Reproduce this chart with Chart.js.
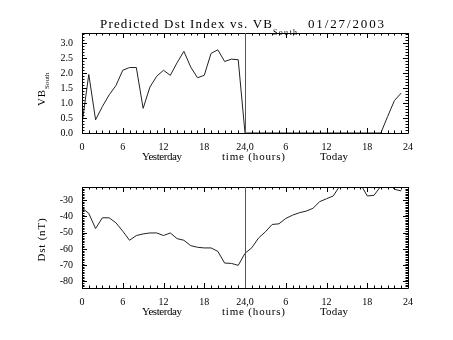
<!DOCTYPE html>
<html>
<head>
<meta charset="utf-8">
<script src="https://cdn.jsdelivr.net/npm/chart.js@4.4.0/dist/chart.umd.min.js"></script>
<style>
    html, body { margin: 0; padding: 0; background: #fff; }
    #wrap { position: relative; width: 453px; height: 340px; }
    #wrap canvas { position: absolute; left: 0; }
</style>
</head>
<body>
<div id="wrap">
    <canvas id="vbChart" width="453" height="170" style="top:0"></canvas>
    <canvas id="dstChart" width="453" height="170" style="top:170px"></canvas>
</div>
<script>
// --- Data (hour 0..47, yesterday 0-23, today 24-47) ---
const hours = [0, 1, 2, 3, 4, 5, 6, 7, 8, 9, 10, 11, 12, 13, 14, 15, 16, 17, 18, 19, 20, 21, 22, 23,
               24, 25, 26, 27, 28, 29, 30, 31, 32, 33, 34, 35, 36, 37, 38, 39, 40, 41, 42, 43, 44, 45, 46, 47];
const vbSouth = [0.30, 1.95, 0.44, 0.88, 1.27, 1.58, 2.09, 2.18, 2.18, 0.82, 1.53, 1.89,
                 2.09, 1.92, 2.34, 2.72, 2.20, 1.84, 1.92, 2.65, 2.77, 2.38, 2.46, 2.44,
                 0, 0, 0, 0, 0, 0, 0, 0, 0, 0, 0, 0,
                 0, 0, 0, 0, 0, 0, 0, 0, 0, 0.55, 1.08, 1.33];
const dst = [-34.9, -38.2, -47.5, -40.9, -40.9, -44.0, -49.1, -54.7, -51.8, -50.8, -50.2, -50.2,
             -51.8, -50.2, -53.7, -54.7, -58.0, -59.0, -59.4, -59.4, -61.5, -68.7, -68.9, -70.1,
             -62.7, -59.3, -53.3, -49.5, -45.0, -44.6, -41.3, -39.3, -37.8, -36.8, -35.1, -31.0,
             -29.2, -27.5, -21.0, -19.0, -18.0, -20.2, -27.5, -27.1, -21.5, -19.1, -23.4, -24.4];
const xTickLabels = ['0', '6', '12', '18', '24,0', '6', '12', '18', '24'];

const SERIF = '"Liberation Serif", "DejaVu Serif", serif';
const tickFont = { family: SERIF, size: 10 };

// draw text stretched with letter spacing so it spans a given width
const fitText = (ctx, text, x, y, w) => {
    ctx.letterSpacing = '0px';
    const m = ctx.measureText(text).width;
    const sp = text.length > 1 ? (w - m) / (text.length - 1) : 0;
    ctx.letterSpacing = sp + 'px';
    ctx.fillText(text, x, y);
    ctx.letterSpacing = '0px';
};

// --- IDL-like frame: box, inward ticks on all sides, divider at 24h, axis titles ---
const idlFrame = {
    id: 'idlFrame',
    afterDraw(chart, args, opts) {
        const { ctx, chartArea: a, scales } = chart;
        const xs = scales.x, ys = scales.y;
        const px = v => Math.round(v) + 0.5;
        ctx.save();
        ctx.strokeStyle = '#000';
        ctx.lineWidth = 1;
        ctx.beginPath();
        ctx.rect(px(a.left), px(a.top), Math.round(a.right - a.left), Math.round(a.bottom - a.top));
        // x ticks (hourly minor, 6h major)
        for (let h = 0; h <= 48; h++) {
            const x = px(xs.getPixelForValue(h));
            const len = h % 6 === 0 ? 5 : 2.5;
            ctx.moveTo(x, a.bottom); ctx.lineTo(x, a.bottom - len);
            ctx.moveTo(x, a.top); ctx.lineTo(x, a.top + len);
        }
        // y ticks
        const n = Math.round((opts.yMaxTick - opts.yMinTick) / opts.yMinor);
        for (let i = 0; i <= n; i++) {
            const v = opts.yMinTick + i * opts.yMinor;
            const y = px(ys.getPixelForValue(v));
            const major = Math.abs(v / opts.yMajor - Math.round(v / opts.yMajor)) < 1e-6;
            const len = major ? 5 : 2.5;
            ctx.moveTo(a.left, y); ctx.lineTo(a.left + len, y);
            ctx.moveTo(a.right, y); ctx.lineTo(a.right - len, y);
        }
        ctx.stroke();
        // divider between yesterday and today
        ctx.beginPath();
        ctx.strokeStyle = '#555';
        const xm = px(xs.getPixelForValue(24));
        ctx.moveTo(xm, a.top); ctx.lineTo(xm, a.bottom);
        ctx.stroke();

        // x axis titles
        ctx.fillStyle = '#000';
        ctx.font = '11px ' + SERIF;
        ctx.textBaseline = 'alphabetic';
        ctx.textAlign = 'left';
        const ty = a.bottom + opts.xTitleOffset;
        fitText(ctx, 'Yesterday', 142, ty, 40);
        fitText(ctx, 'time (hours)', 222, ty, 63);
        fitText(ctx, 'Today', 320, ty, 28);

        // y axis title (rotated), with optional subscript
        ctx.translate(opts.yTitleX, opts.yTitleY);
        ctx.rotate(-Math.PI / 2);
        ctx.font = '11px ' + SERIF;
        ctx.textAlign = 'left';
        const mainW = ctx.measureText(opts.yTitle).width + (opts.yTitle.length - 1) * 0.8;
        const subW = opts.ySub ? 20 : 0;
        const start = -(mainW + subW) / 2;
        ctx.letterSpacing = '0.8px';
        ctx.fillText(opts.yTitle, start, 0);
        ctx.letterSpacing = '0px';
        if (opts.ySub) {
            ctx.font = '7px ' + SERIF;
            ctx.fillText(opts.ySub, start + mainW + 1, 4);
        }
        ctx.restore();

        // main title on the top panel
        if (opts.title) {
            ctx.save();
            ctx.fillStyle = '#000';
            ctx.font = '13px ' + SERIF;
            ctx.textAlign = 'left';
            fitText(ctx, 'Predicted Dst Index vs. VB', 100, 28, 172);
            ctx.font = '8px ' + SERIF;
            fitText(ctx, 'South', 273, 35, 24);
            ctx.font = '13px ' + SERIF;
            fitText(ctx, '01/27/2003', 308, 28, 76);
            ctx.restore();
        }
    }
};

const makeChart = (id, values, yOpts, frameOpts, xAxisHeight, padTop) => {
    const ctx = document.getElementById(id).getContext('2d');
    return new Chart(ctx, {
        type: 'line',
        data: {
            datasets: [{
                data: hours.map((h, i) => ({ x: h, y: values[i] })),
                borderColor: '#222',
                borderWidth: 1,
                pointRadius: 0,
                tension: 0,
                fill: false
            }]
        },
        options: {
            responsive: false,
            animation: false,
            layout: { padding: { top: padTop, right: 45, left: 0, bottom: 0 } },
            plugins: {
                legend: { display: false },
                tooltip: { enabled: false },
                idlFrame: frameOpts
            },
            scales: {
                x: {
                    type: 'linear',
                    min: 0,
                    max: 48,
                    grid: { display: false, drawTicks: false },
                    border: { display: false },
                    afterFit: s => { s.height = xAxisHeight; },
                    ticks: {
                        stepSize: 6,
                        autoSkip: false,
                        maxRotation: 0,
                        padding: 8,
                        color: '#000',
                        font: tickFont,
                        callback: v => xTickLabels[v / 6]
                    }
                },
                y: Object.assign({
                    grid: { display: false, drawTicks: false },
                    border: { display: false },
                    afterFit: s => { s.width = 82; }
                }, yOpts)
            }
        },
        plugins: [idlFrame]
    });
};

makeChart('vbChart', vbSouth, {
    min: 0,
    max: 3.33,
    ticks: {
        stepSize: 0.5,
        includeBounds: false,
        padding: 9,
        color: '#000',
        font: tickFont,
        callback: v => v.toFixed(1)
    }
}, {
    yMinTick: 0, yMaxTick: 3.3, yMinor: 0.1, yMajor: 0.5,
    yTitle: 'VB', ySub: 'South', yTitleX: 45, yTitleY: 88,
    xTitleOffset: 27, title: true
}, 37, 33);

makeChart('dstChart', dst, {
    min: -84,
    max: -22,
    ticks: {
        stepSize: 10,
        includeBounds: false,
        padding: 9,
        color: '#000',
        font: tickFont,
        callback: v => String(v)
    }
}, {
    yMinTick: -84, yMaxTick: -22, yMinor: 1, yMajor: 10,
    yTitle: 'Dst (nT)', ySub: '', yTitleX: 45, yTitleY: 70,
    xTitleOffset: 27, title: false
}, 52, 17);
</script>
</body>
</html>
